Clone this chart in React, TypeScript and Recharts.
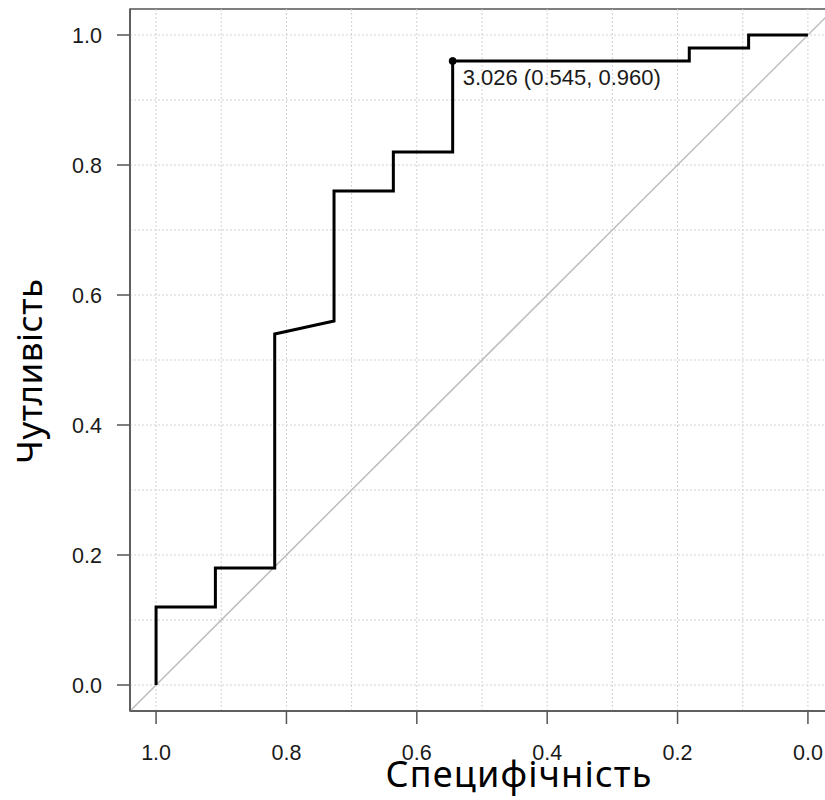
import React from 'react';
import { LineChart, Line, XAxis, YAxis, ReferenceLine, ReferenceArea, ReferenceDot, Label } from 'recharts';

// ROC curve points
const specificity = [1.0, 1.0, 0.909, 0.909, 0.818, 0.818, 0.727, 0.727, 0.636, 0.636, 0.545, 0.545, 0.182, 0.182, 0.091, 0.091, 0.0];
const sensitivity = [0.0, 0.12, 0.12, 0.18, 0.18, 0.54, 0.56, 0.76, 0.76, 0.82, 0.82, 0.96, 0.96, 0.98, 0.98, 1.0, 1.0];
const axisTicks = [0, 0.2, 0.4, 0.6, 0.8, 1.0];
const gridTicks = [0, 0.1, 0.2, 0.3, 0.4, 0.5, 0.6, 0.7, 0.8, 0.9, 1.0];
const bestPoint = { spec: 0.545, sens: 0.96, threshold: 3.026 };
const xTitle = 'Специфічність';
const yTitle = 'Чутливість';

const data = specificity.map((s, i) => ({ spec: s, sens: sensitivity[i] }));
const domain: [number, number] = [-0.04, 1.04];

const tickStyle = { fill: '#1a1a1a', fontSize: 21.5, fontFamily: 'Liberation Sans, Arial, sans-serif' };
const titleFont = "'Noto Sans', 'Open Sans', sans-serif";

export default function App() {
  return <div style={{ position: 'absolute', left: 0, top: 0, width: 825, height: 800, overflow: 'hidden', background: '#fff' }}>
      <LineChart width={850} height={800} data={data} margin={{ top: 9, right: 16, left: 0, bottom: 0 }}>
        {gridTicks.map(v => <ReferenceLine key={'gx' + v} x={v} stroke="#d2d2d2" strokeDasharray="2 2" />)}
        {gridTicks.map(v => <ReferenceLine key={'gy' + v} y={v} stroke="#d2d2d2" strokeDasharray="2 2" />)}
        <XAxis dataKey="spec" type="number" domain={domain} reversed allowDataOverflow ticks={axisTicks}
          tickFormatter={v => v.toFixed(1)} height={89} tick={tickStyle} tickSize={13} tickMargin={21}
          axisLine={{ stroke: '#555', strokeWidth: 1.5 }} tickLine={{ stroke: '#555', strokeWidth: 1.5 }}>
          <Label content={({ viewBox }: any) => <text x={viewBox.x + viewBox.width / 2 + 37} y={viewBox.y + 76}
              textAnchor="middle" fontSize={36} letterSpacing={1.2} fontFamily={titleFont} fill="#000">{xTitle}</text>} />
        </XAxis>
        <YAxis type="number" domain={domain} allowDataOverflow ticks={axisTicks} width={130}
          tickFormatter={v => v.toFixed(1)} tick={tickStyle} tickSize={13} tickMargin={15}
          axisLine={{ stroke: '#555', strokeWidth: 1.5 }} tickLine={{ stroke: '#555', strokeWidth: 1.5 }}>
          <Label content={({ viewBox }: any) => {
            const x = viewBox.x + 42;
            const y = viewBox.y + viewBox.height / 2 + 11;
            return <text x={x} y={y} transform={`rotate(-90, ${x}, ${y})`} textAnchor="middle" fontSize={35}
                letterSpacing={0.5} fontFamily={titleFont} fill="#000">{yTitle}</text>;
          }} />
        </YAxis>
        <ReferenceArea x1={domain[0]} x2={domain[1]} y1={domain[0]} y2={domain[1]} fill="none" fillOpacity={0}
          stroke="#555" strokeWidth={1.5} />
        <ReferenceLine segment={[{ x: domain[1], y: domain[0] }, { x: domain[0], y: domain[1] }]} stroke="#bdbdbd" strokeWidth={1.5} />
        <Line dataKey="sens" type="linear" stroke="#000" strokeWidth={3} dot={false} isAnimationActive={false} />
        <ReferenceDot x={bestPoint.spec} y={bestPoint.sens} r={3.5} fill="#000" stroke="#000">
          <Label content={({ viewBox }: any) => <text x={viewBox.x + viewBox.width / 2 + 10} y={viewBox.y + viewBox.height / 2 + 24}
              fontSize={22} fontFamily="Liberation Sans, Arial, sans-serif" fill="#1a1a1a">
              {`${bestPoint.threshold.toFixed(3)} (${bestPoint.spec.toFixed(3)}, ${bestPoint.sens.toFixed(3)})`}
            </text>} />
        </ReferenceDot>
      </LineChart>
    </div>;
}
